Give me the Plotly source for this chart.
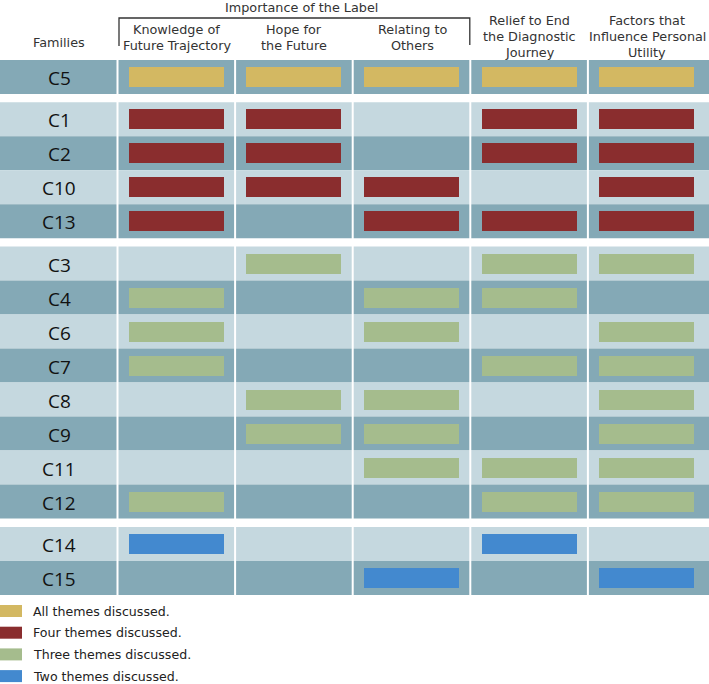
import plotly.graph_objects as go

# ---- data ----
themes = [
    ["Knowledge of", "Future Trajectory"],
    ["Hope for", "the Future"],
    ["Relating to", "Others"],
    ["Relief to End", "the Diagnostic", "Journey"],
    ["Factors that", "Influence Personal", "Utility"],
]
group_names = ["All themes discussed.", "Four themes discussed.",
               "Three themes discussed.", "Two themes discussed."]
group_colors = ["#d3b862", "#8a2d2e", "#a5bc8d", "#4389cf"]
families = [
    ["C5"],
    ["C1", "C2", "C10", "C13"],
    ["C3", "C4", "C6", "C7", "C8", "C9", "C11", "C12"],
    ["C14", "C15"],
]
# 1 = theme discussed, per family in the order of `themes`
discussed = {
    "C5":  [1, 1, 1, 1, 1],
    "C1":  [1, 1, 0, 1, 1],
    "C2":  [1, 1, 0, 1, 1],
    "C10": [1, 1, 1, 0, 1],
    "C13": [1, 0, 1, 1, 1],
    "C3":  [0, 1, 0, 1, 1],
    "C4":  [1, 0, 1, 1, 0],
    "C6":  [1, 0, 1, 0, 1],
    "C7":  [1, 0, 0, 1, 1],
    "C8":  [0, 1, 1, 0, 1],
    "C9":  [0, 1, 1, 0, 1],
    "C11": [0, 0, 1, 1, 1],
    "C12": [1, 0, 0, 1, 1],
    "C14": [1, 0, 0, 1, 0],
    "C15": [0, 0, 1, 0, 1],
}

# ---- layout geometry (pixel-like units) ----
W, H = 709, 684
first_col = 118
col_w = 117.6
row_h = 34
top0 = 60
gap = 8.3
bar_w = 95
bar_h = 20
light = "#c5d8df"
dark = "#84a9b6"

fig = go.Figure()
shapes = []
annotations = []

row_tops = {}
row_shade = {}
y = top0
for gi, grp in enumerate(families):
    for i, fam in enumerate(grp):
        row_tops[fam] = y
        row_shade[fam] = dark if (gi == 0 or i % 2 == 1) else light
        y += row_h
    y += gap
bottom = y - gap

for grp in families:
    for fam in grp:
        t = row_tops[fam]
        shapes.append(dict(type="rect", xref="x", yref="y", x0=0, x1=W, y0=t, y1=t + row_h,
                           fillcolor=row_shade[fam], line_width=0, layer="below"))
        annotations.append(dict(x=first_col / 2, y=t + row_h / 2 + 1, xref="x", yref="y",
                                text=fam, showarrow=False,
                                font=dict(size=19, color="#111111", family="Open Sans")))

# vertical separators
for k in range(len(themes)):
    xs = first_col + k * col_w - 0.5
    shapes.append(dict(type="line", xref="x", yref="y", x0=xs, x1=xs, y0=top0, y1=bottom,
                       line=dict(color="white", width=2), layer="below"))

# bars per group
for gi, grp in enumerate(families):
    xs, bases = [], []
    for fam in grp:
        for k, v in enumerate(discussed[fam]):
            if v:
                xs.append(first_col + k * col_w + col_w / 2 - 0.5)
                bases.append(row_tops[fam] + (row_h - bar_h) / 2)
    fig.add_trace(go.Bar(x=xs, y=[bar_h] * len(xs), base=bases, width=bar_w,
                         marker=dict(color=group_colors[gi], line=dict(width=0)),
                         showlegend=False, hoverinfo="skip"))

# headers
hdr_font = dict(size=12.8, color="#333333", family="DejaVu Sans")
annotations.append(dict(x=first_col / 2, y=42, xref="x", yref="y", text="Families",
                        showarrow=False, font=hdr_font))
for k, lines in enumerate(themes):
    cx = first_col + k * col_w + col_w / 2
    ys = [29, 45] if len(lines) == 2 else [20, 36, 52]
    for ln, yy in zip(lines, ys):
        annotations.append(dict(x=cx, y=yy, xref="x", yref="y", text=ln, showarrow=False,
                                font=hdr_font, yanchor="middle"))
annotations.append(dict(x=301, y=7, xref="x", yref="y",
                        text="Importance of the Label", showarrow=False, font=hdr_font))
# bracket
bx0 = first_col + 1
bx1 = first_col + 3 * col_w - 1
shapes.append(dict(type="path", xref="x", yref="y",
                   path=f"M {bx0},46 L {bx0},18 L {bx1},18 L {bx1},45",
                   line=dict(color="#333333", width=1.3)))

# legend
leg_top = 605
leg_step = 21.7
for gi, (nm, c) in enumerate(zip(group_names, group_colors)):
    t = leg_top + gi * leg_step
    shapes.append(dict(type="rect", xref="x", yref="y", x0=0, x1=22, y0=t, y1=t + 12,
                       fillcolor=c, line_width=0))
    annotations.append(dict(x=31, y=t + 6, xref="x", yref="y", text=nm, showarrow=False,
                            xanchor="left", font=dict(size=12.6, color="#222222", family="DejaVu Sans")))

fig.update_layout(
    width=W, height=H, margin=dict(l=0, r=0, t=0, b=0),
    paper_bgcolor="white", plot_bgcolor="white",
    xaxis=dict(range=[0, W], visible=False, fixedrange=True),
    yaxis=dict(range=[H, 0], visible=False, fixedrange=True),
    shapes=shapes, annotations=annotations, bargap=0, barmode="overlay",
)
fig.write_html("out.html", config={"displayModeBar": False},
               post_script="document.body.style.margin='0';document.body.style.overflow='hidden';")
